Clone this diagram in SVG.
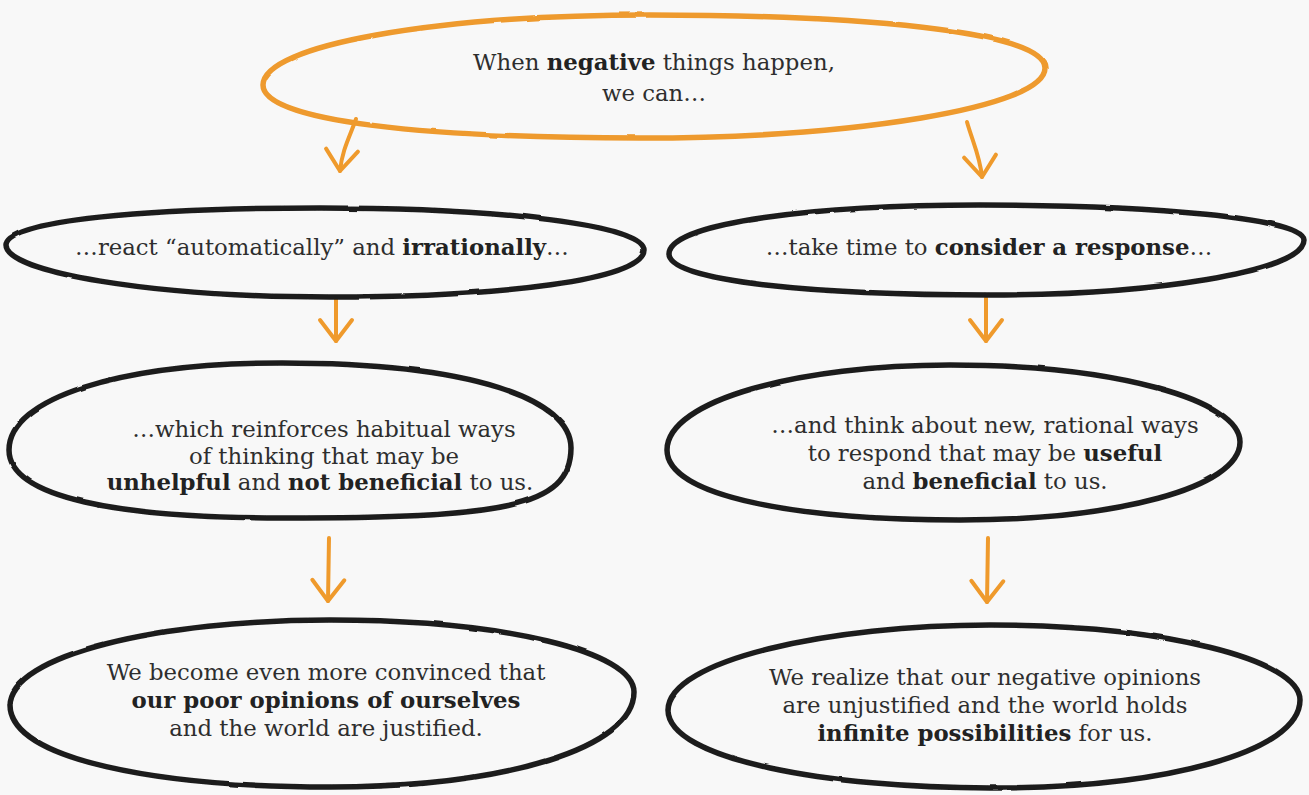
<svg xmlns="http://www.w3.org/2000/svg" width="1309" height="795" viewBox="0 0 1309 795">
<defs>
<style>
.bg{fill:#f8f8f8}
.shape{fill:none;stroke:#1e1e1e;stroke-width:5.5;stroke-linejoin:round;filter:url(#rough)}
.orange{fill:none;stroke:#ee9a2e;stroke-width:5.5;filter:url(#rough)}
.conn{fill:none;stroke:#ef9a2c;stroke-width:4;stroke-linecap:round;marker-end:url(#ah)}
text{font-family:"DejaVu Serif","Liberation Serif",serif;font-size:22.8px;fill:#2e2e2e;text-anchor:middle}
.b{font-weight:bold;fill:#222}
</style>
<filter id="rough" x="-5%" y="-10%" width="110%" height="120%">
<feTurbulence type="fractalNoise" baseFrequency="0.035" numOctaves="2" seed="3" result="n"/>
<feDisplacementMap in="SourceGraphic" in2="n" scale="2" xChannelSelector="R" yChannelSelector="G"/>
</filter>
<marker id="ah" markerWidth="40" markerHeight="40" viewBox="0 0 40 40" refX="26" refY="20" orient="auto" markerUnits="userSpaceOnUse">
<path d="M5,4 L26,20 L5,36" fill="none" stroke="#ef9a2c" stroke-width="4" stroke-linecap="round" stroke-linejoin="round"/>
</marker>
</defs>
<rect class="bg" x="0" y="0" width="1309" height="795"/>

<g id="connectors">
<path class="conn" d="M356,119 C350,136 342,150 340,171"/>
<path class="conn" d="M967,122 C972,140 980,156 982,177"/>
<path class="conn" d="M336,299 L336,341"/>
<path class="conn" d="M986,298 L986,341"/>
<path class="conn" d="M329,538 L328,601"/>
<path class="conn" d="M988,538 L987,602"/>
</g>

<g id="node-start">
<path class="orange" d="M263,85 C263,45 436,15 650,15 C850,15 1045,30 1045,68 C1045,108 850,138 640,138 C430,138 263,122 263,85 Z"/>
<text x="654" y="70">When <tspan class="b">negative</tspan> things happen,</text>
<text x="654" y="101">we can…</text>
</g>

<g id="node-react">
<path class="shape" d="M6,245 C6,220 150,208 320,208 C500,208 644,225 644,250 C644,280 500,297 330,297 C150,297 6,272 6,245 Z"/>
<text x="322" y="255">…react “automatically” and <tspan class="b">irrationally</tspan>…</text>
</g>

<g id="node-consider">
<path class="shape" d="M669,254 C669,222 820,205 980,205 C1150,205 1304,218 1304,240 C1304,272 1150,295 990,295 C820,295 669,282 669,254 Z"/>
<text x="989" y="255">…take time to <tspan class="b">consider a response</tspan>…</text>
</g>

<g id="node-habitual">
<path class="shape" d="M9,450 C9,398 120,363 282,363 C475,363 571,400 571,448 C571,508 500,518 282,518 C120,518 9,498 9,450 Z"/>
<text x="324" y="437">…which reinforces habitual ways</text>
<text x="324" y="464">of thinking that may be</text>
<text x="320" y="490"><tspan class="b">unhelpful</tspan> and <tspan class="b">not beneficial</tspan> to us.</text>
</g>

<g id="node-rational">
<path class="shape" d="M667,450 C667,400 800,365 950,365 C1115,365 1240,400 1240,442 C1240,488 1115,520 960,520 C800,520 667,497 667,450 Z"/>
<text x="985" y="433">…and think about new, rational ways</text>
<text x="985" y="461">to respond that may be <tspan class="b">useful</tspan></text>
<text x="985" y="489">and <tspan class="b">beneficial</tspan> to us.</text>
</g>

<g id="node-convinced">
<path class="shape" d="M10,705 C10,655 160,620 330,620 C505,620 634,652 634,692 C634,748 505,787 330,787 C160,787 10,760 10,705 Z"/>
<text x="326" y="680">We become even more convinced that</text>
<text x="326" y="708" class="b">our poor opinions of ourselves</text>
<text x="326" y="736">and the world are justified.</text>
</g>

<g id="node-possibilities">
<path class="shape" d="M668,710 C668,660 830,625 990,625 C1165,625 1300,660 1300,700 C1300,752 1165,788 990,788 C830,788 668,760 668,710 Z"/>
<text x="985" y="685">We realize that our negative opinions</text>
<text x="985" y="713">are unjustified and the world holds</text>
<text x="985" y="741"><tspan class="b">infinite possibilities</tspan> for us.</text>
</g>
</svg>
